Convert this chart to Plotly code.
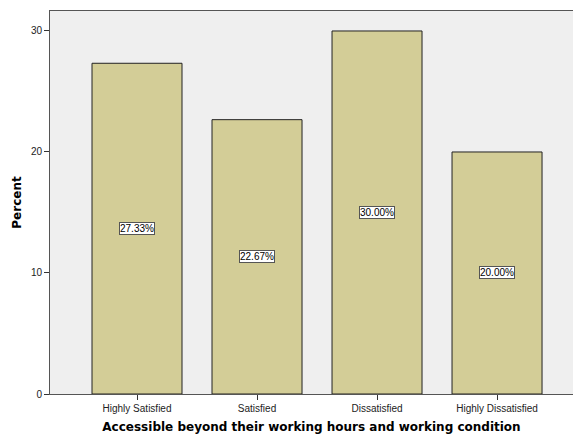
import plotly.graph_objects as go

categories = ["Highly Satisfied", "Satisfied", "Dissatisfied", "Highly Dissatisfied"]
percent = [27.33, 22.67, 30.00, 20.00]
labels = ["27.33%", "22.67%", "30.00%", "20.00%"]
y_ticks = [0, 10, 20, 30]

fig = go.Figure()
fig.add_trace(go.Bar(
    x=list(range(len(categories))), y=percent,
    marker=dict(color="#d3cd97", line=dict(color="#222222", width=1)),
    width=0.75, hoverinfo="skip",
))

for i, (v, t) in enumerate(zip(percent, labels)):
    fig.add_annotation(x=i, y=v / 2, text=t, showarrow=False,
                       font=dict(family="Liberation Sans, Arial", size=10, color="black"),
                       bgcolor="white", bordercolor="#555555", borderwidth=1, borderpad=0)

fig.update_layout(
    width=573, height=434,
    margin=dict(l=50, r=0, t=11, b=40),
    paper_bgcolor="white", plot_bgcolor="#efefef",
    showlegend=False,
    font=dict(family="Liberation Sans, Arial", size=10, color="#222222"),
    xaxis=dict(
        range=[-0.725, 3.633],
        tickvals=list(range(len(categories))), ticktext=categories,
        ticks="outside", ticklen=5, tickcolor="#333333",
        showline=True, linecolor="#555555", linewidth=1, mirror=True,
        showgrid=False, zeroline=False,
        tickfont=dict(size=10, color="#222222"),
        title=dict(text="<b>Accessible beyond their working hours and working condition</b>",
                   font=dict(family="DejaVu Sans", size=12, color="black"), standoff=10),
    ),
    yaxis=dict(
        range=[0, 31.65],
        tickvals=y_ticks,
        ticks="outside", ticklen=5, tickcolor="#333333",
        showline=True, linecolor="#555555", linewidth=1,
        showgrid=False, zeroline=False,
        tickfont=dict(size=10, color="#222222"),
        title=dict(text="<b>Percent</b>", font=dict(family="DejaVu Sans", size=12, color="black"), standoff=6),
    ),
)

fig.write_html("out.html")
